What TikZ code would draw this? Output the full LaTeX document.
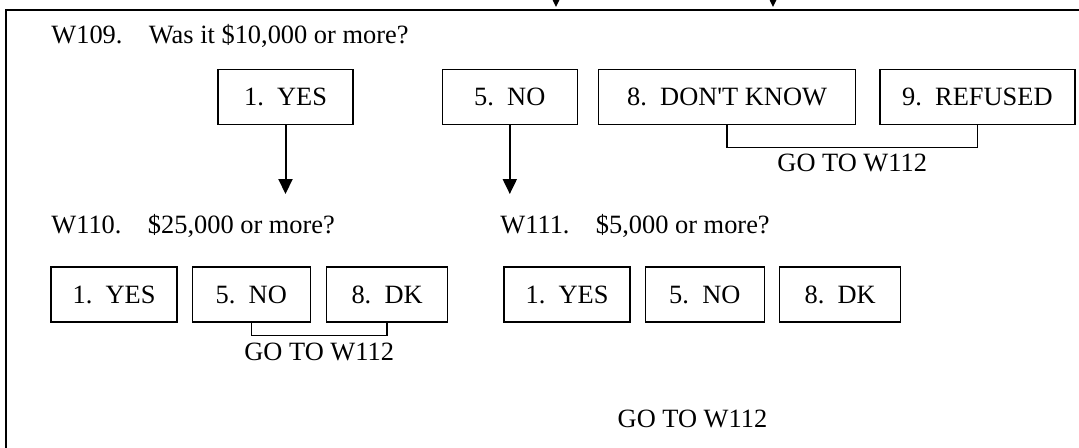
\documentclass[tikz,border=0pt]{standalone}
\usepackage{fontspec}
\setmainfont{Liberation Serif}[Ligatures=TeXOff]
\usetikzlibrary{arrows.meta,positioning}

\begin{document}
\begin{tikzpicture}[
    x=0.5pt, y=-0.5pt,
    font=\fontsize{13.2}{15.5}\selectfont,
    node distance=7pt,
    ans/.style={draw, line width=0.65pt, minimum height=27.5pt, inner sep=0pt},
    qtext/.style={anchor=base west, inner sep=0pt},
    arr/.style={-{Triangle[length=7.5pt,width=7pt]}, line width=1pt},
    brk/.style={line width=0.65pt}
]
    \useasboundingbox (0,0) rectangle (1079,447);
    \clip (0,0) rectangle (1079,447);

    % Outer frame
    \draw[line width=1pt] (6,460) -- (6,10) -- (1090,10);

    % Arrows coming in from above
    \coordinate (inA) at (556,-30);
    \coordinate (inAend) at (556,7);
    \coordinate (inB) at (773,-30);
    \coordinate (inBend) at (773,7);
    \draw[arr] (inA) -- (inAend);
    \draw[arr] (inB) -- (inBend);

    % W109
    \node[qtext] (q109) at (51,43) {W109.\quad Was it \$10,000 or more?};
    \node[ans, minimum width=67.5pt] (y109) at (285.5,97) {1.~~YES};
    \node[ans, minimum width=67.5pt, right=44pt of y109] (n109) {5.~~NO};
    \node[ans, minimum width=128.5pt, right=10pt of n109] (dk109) {8.~~DON'T KNOW};
    \node[ans, minimum width=97.5pt, right=11.5pt of dk109] (rf109) {9.~~REFUSED};

    \draw[brk] (dk109.south) -- ++(0,22) -| node[pos=0.25, below] (go109) {GO TO W112} (rf109.south);

    \coordinate (yesEnd) at (y109.south |- 0,194);
    \coordinate (noEnd) at (n109.south |- 0,194);
    \draw[arr] (y109.south) -- (yesEnd);
    \draw[arr] (n109.south) -- (noEnd);

    % W110
    \node[qtext] (q110) at (51,233) {W110.\quad \$25,000 or more?};
    \node[ans, minimum width=63pt] (y110) at (114,294.5) {1.~~YES};
    \node[ans, minimum width=59pt, right=7pt of y110] (n110) {5.~~NO};
    \node[ans, minimum width=60.5pt, right=7.5pt of n110] (dk110) {8.~~DK};

    \draw[brk] (n110.south) -- ++(0,13) -| node[pos=0.25, below] (go110) {GO TO W112} (dk110.south);

    % W111
    \node[qtext] (q111) at (500,233) {W111.\quad \$5,000 or more?};
    \node[ans, minimum width=63pt] (y111) at (567,294.5) {1.~~YES};
    \node[ans, minimum width=59.5pt, right=7pt of y111] (n111) {5.~~NO};
    \node[ans, minimum width=60.5pt, right=7pt of n111] (dk111) {8.~~DK};

    \node[anchor=base, inner sep=0pt] (go111) at (692.5,427) {GO TO W112};
\end{tikzpicture}
\end{document}
